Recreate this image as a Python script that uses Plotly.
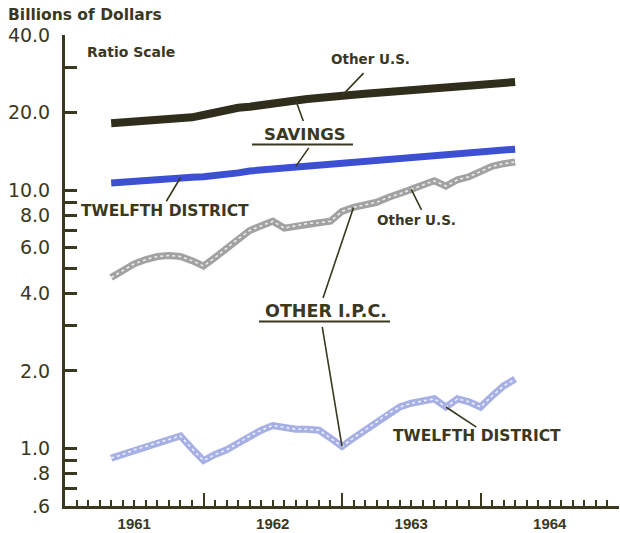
import math
import plotly.graph_objects as go

# ---- data (monthly, month index 0 = Jan 1961) ----
months = list(range(4, 40))

other_us_savings = [18.2, 18.3, 18.4, 18.5, 18.6, 18.8, 18.9, 19.2, 19.6, 20.1,
                    20.6, 20.9, 21.1, 21.3, 21.6, 21.9, 22.3, 22.6, 22.9, 23.1,
                    23.3, 23.5, 23.7, 23.9, 24.1, 24.3, 24.5, 24.7, 24.9, 25.1,
                    25.3, 25.5, 25.7, 25.9, 26.1, 26.3]

twelfth_savings = [10.7, 10.8, 10.9, 11.0, 11.05, 11.1, 11.2, 11.25, 11.3, 11.4,
                   11.5, 11.7, 11.9, 12.0, 12.2, 12.3, 12.4, 12.5, 12.6, 12.75,
                   12.9, 13.0, 13.1, 13.2, 13.3, 13.4, 13.45, 13.5, 13.6, 13.7,
                   13.85, 14.0, 14.1, 14.2, 14.3, 14.45]

other_us_ipc = [4.6, 4.9, 5.2, 5.4, 5.55, 5.6, 5.55, 5.35, 5.1, 5.5,
                6.0, 6.5, 7.0, 7.3, 7.6, 7.15, 7.3, 7.45, 7.5, 7.6,
                8.3, 8.6, 8.8, 9.0, 9.4, 9.7, 10.1, 10.5, 10.9, 10.4,
                11.0, 11.3, 11.8, 12.4, 12.7, 12.9]

twelfth_ipc = [0.92, 0.95, 0.99, 1.02, 1.05, 1.08, 1.12, 1.0, 0.90, 0.95,
               0.99, 1.05, 1.12, 1.18, 1.23, 1.21, 1.19, 1.19, 1.18, 1.10,
               1.02, 1.10, 1.18, 1.27, 1.37, 1.45, 1.50, 1.53, 1.56, 1.45,
               1.56, 1.52, 1.45, 1.60, 1.75, 1.86]

year_labels = ["1961", "1962", "1963", "1964"]
year_label_pos = [6, 18, 30, 42]
year_bounds = [0, 12, 24, 36, 48]
month_ticks = [m for m in range(49) if m % 12]

y_tickvals = [0.6, 0.7, 0.8, 0.9, 1, 2, 3, 4, 5, 6, 7, 8, 9, 10, 20, 30, 40]
y_ticktext = [".6", "", ".8", "", "1.0", "2.0", "", "4.0", "", "6.0", "", "8.0",
              "", "10.0", "20.0", "", "40.0"]

# ---- styling ----
AX = "#3a381f"
DARK = "#2f2d1c"
BLUE = "#3d4fd2"
GRAY = "#a2a2a2"
LBLUE = "#a6b0e4"
W, H = 620, 533
ML, MR, MT, MB = 65, 1, 35, 24.5
PW, PH = W - ML - MR, H - MT - MB


def px(xp):
    return (xp - ML) / PW


def py(yp):
    return (H - MB - yp) / PH


fig = go.Figure()

fig.add_trace(go.Scatter(x=months, y=other_us_savings, mode="lines",
                         line=dict(color=DARK, width=8), hoverinfo="skip"))
fig.add_trace(go.Scatter(x=months, y=twelfth_savings, mode="lines",
                         line=dict(color=BLUE, width=7), hoverinfo="skip"))
for series, col in ((other_us_ipc, GRAY), (twelfth_ipc, LBLUE)):
    fig.add_trace(go.Scatter(x=months, y=series, mode="lines",
                             line=dict(color=col, width=7), hoverinfo="skip"))
    fig.add_trace(go.Scatter(x=months, y=series, mode="lines",
                             line=dict(color="rgba(255,255,255,0.8)", width=1.6, dash="dot"),
                             hoverinfo="skip"))
# carrier for the year-boundary tick axis
fig.add_trace(go.Scatter(x=[year_bounds[0], year_bounds[-1]], y=[1, 1], xaxis="x2",
                         mode="markers", marker=dict(opacity=0), hoverinfo="skip"))

fig.update_layout(
    width=W, height=H, margin=dict(l=ML, r=MR, t=MT, b=MB),
    paper_bgcolor="white", plot_bgcolor="white", showlegend=False,
    xaxis=dict(range=[0, 48], tickmode="array", tickvals=year_label_pos, ticktext=year_labels,
               ticks="", showline=True, linecolor=AX, linewidth=3, showgrid=False,
               zeroline=False, ticklabelstandoff=2,
               tickfont=dict(family="Liberation Sans", size=15, color=AX, weight="bold"),
               minor=dict(tickmode="array", tickvals=month_ticks, ticks="inside", ticklen=6,
                          tickwidth=1.5, tickcolor=AX, showgrid=False)),
    xaxis2=dict(range=[0, 48], overlaying="x", anchor="y", side="bottom", tickmode="array",
                tickvals=year_bounds, ticks="inside", ticklen=13, tickwidth=2, tickcolor=AX,
                showticklabels=False, showline=False, showgrid=False, zeroline=False),
    yaxis=dict(type="log", range=[math.log10(0.6), math.log10(40)], tickmode="array",
               tickvals=y_tickvals, ticktext=y_ticktext, ticks="inside", ticklen=12,
               tickwidth=2.5, tickcolor=AX, showline=True, linecolor=AX, linewidth=3,
               showgrid=False, zeroline=False, ticklabelstandoff=8,
               tickfont=dict(family="DejaVu Sans", size=19, color=AX)),
)

# ---- text labels ----
labels = [
    ("Billions of Dollars", 7, 15, 15.5),
    ("Ratio Scale", 86, 52, 14),
    ("Other U.S.", 330, 59.5, 13.5),
    ("SAVINGS", 263, 135, 16.5),
    ("TWELFTH DISTRICT", 80, 212, 15.5),
    ("Other U.S.", 376, 221, 13.5),
    ("OTHER I.P.C.", 264, 312, 17.5),
    ("TWELFTH DISTRICT", 392, 438, 15.5),
]
for txt, xl, yc, fs in labels:
    fig.add_annotation(text="<b>%s</b>" % txt, xref="paper", yref="paper", x=px(xl), y=py(yc),
                       xanchor="left", yanchor="middle", showarrow=False,
                       font=dict(family="DejaVu Sans", size=fs, color=AX), borderpad=0)

# underlines
for x0, x1, yy in ((252, 353, 145), (259, 390, 323)):
    fig.add_shape(type="line", xref="paper", yref="paper", x0=px(x0), x1=px(x1),
                  y0=py(yy), y1=py(yy), line=dict(color=AX, width=2))

# ---- leader lines: (series, month, ax, ay) ----
leaders = [
    (other_us_savings, 24, 23, -24),
    (other_us_savings, 20, 8, 22),
    (twelfth_savings, 20, 14, -20),
    (twelfth_savings, 10, -15, 25),
    (other_us_ipc, 30, 11, 22),
    (other_us_ipc, 25, -31, 92),
    (twelfth_ipc, 24, -20, -121),
    (twelfth_ipc, 33, 32, 21),
]
for series, m, ax, ay in leaders:
    v = series[months.index(m)]
    fig.add_annotation(text="", x=m, y=math.log10(v), xref="x", yref="y", ax=ax, ay=ay,
                       showarrow=True, arrowhead=0, arrowwidth=1.6, arrowcolor=AX,
                       standoff=0, startstandoff=0)

fig.write_html("out.html")
